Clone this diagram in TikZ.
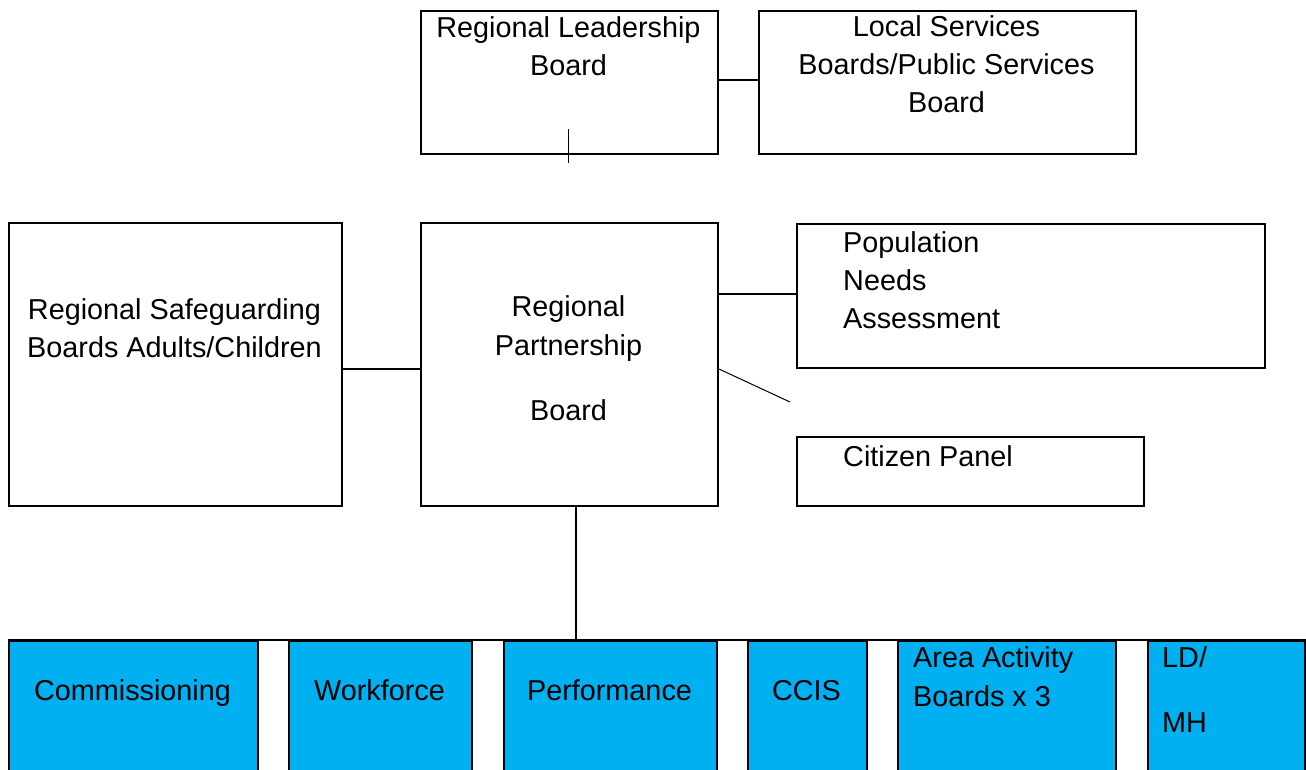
\documentclass[tikz,border=0pt]{standalone}
\usepackage{fontspec}
\setmainfont{Liberation Sans}
\usetikzlibrary{calc}
\definecolor{boxblue}{RGB}{0,176,240}
\begin{document}
\begin{tikzpicture}[x=1pt,y=-1pt,
  box/.style={draw=black, line width=2.2pt, anchor=north west, inner sep=0pt},
  bluebox/.style={box, fill=boxblue, minimum height=150pt},
  link/.style={draw=black, line width=2pt},
  thinlink/.style={draw=black, line width=1pt},
  txt/.style={anchor=base, inner sep=0pt, font=\fontsize{28.8}{38}\selectfont},
  ltxt/.style={txt, anchor=base west}]
\clip (0,0) rectangle (1306,770);
\fill[white] (0,0) rectangle (1306,770);
% top boxes
\node (lead) [box, minimum width=297pt, minimum height=143pt] at (420,10) {};
\node (local) [box, minimum width=377pt, minimum height=143pt] at (758,10) {};
% middle boxes
\node (safe) [box, minimum width=333pt, minimum height=283pt] at (8,222) {};
\node (part) [box, minimum width=297pt, minimum height=283pt] at (420,222) {};
\node (pop) [box, minimum width=468pt, minimum height=144pt] at (796,223) {};
\node (cit) [box, minimum width=347pt, minimum height=69pt] at (796,436) {};
% bottom boxes
\node (comm) [bluebox, minimum width=249pt] at (8,640) {};
\node (work) [bluebox, minimum width=183pt] at (288,640) {};
\node (perf) [bluebox, minimum width=213pt] at (503,640) {};
\node (ccis) [bluebox, minimum width=119pt] at (747,640) {};
\node (area) [bluebox, minimum width=218pt] at (897,640) {};
\node (ldmh) [bluebox, minimum width=157pt] at (1147,640) {};
% connectors
\draw[link] ([yshift=2.5pt]lead.east) -- ([yshift=2.5pt]local.west);
\draw[thinlink] ([xshift=-1.5pt,yshift=26pt]lead.south) -- ([xshift=-1.5pt,yshift=-8pt]lead.south);
\draw[link] ([yshift=-4.5pt]safe.east) -- ([yshift=-4.5pt]part.west);
\draw[link] ([yshift=2pt]pop.west -| part.east) -- ([yshift=2pt]pop.west);
\coordinate (diagend) at (790,402);
\draw[thinlink] ([yshift=-4.5pt]part.east) -- (diagend);
\draw[link] ([xshift=6.5pt]part.south) -- ([xshift=6.5pt]part.south |- comm.north);
\draw[link] (comm.north west) -- (ldmh.north east);
% texts
\node (leadA) [txt] at (568.5,38) {Regional Leadership};
\node (leadB) [txt] at (568.5,76) {Board};
\node (localA) [txt] at (946.5,37) {Local Services};
\node (localB) [txt] at (946.5,75) {Boards/Public Services};
\node (localC) [txt] at (946.5,113) {Board};
\node (safeA) [txt] at (174.5,319) {Regional Safeguarding};
\node (safeB) [txt] at (174.5,357) {Boards Adults/Children};
\node (partA) [txt] at (568.5,316) {Regional};
\node (partB) [txt] at (568.5,355) {Partnership};
\node (partC) [txt] at (568.5,420) {Board};
\node (popA) [ltxt] at (843,252) {Population};
\node (popB) [ltxt] at (843,290) {Needs};
\node (popC) [ltxt] at (843,328) {Assessment};
\node (citA) [ltxt] at (843,466) {Citizen Panel};
\node (commA) [txt] at (132.5,700) {Commissioning};
\node (workA) [txt] at (379.5,700) {Workforce};
\node (perfA) [txt] at (609.5,700) {Performance};
\node (ccisA) [txt] at (806.5,700) {CCIS};
\node (areaA) [ltxt] at (913,667) {Area Activity};
\node (areaB) [ltxt] at (913,706) {Boards x 3};
\node (ldA) [ltxt] at (1162,667) {LD/};
\node (ldB) [ltxt] at (1162,732) {MH};
\end{tikzpicture}
\end{document}
